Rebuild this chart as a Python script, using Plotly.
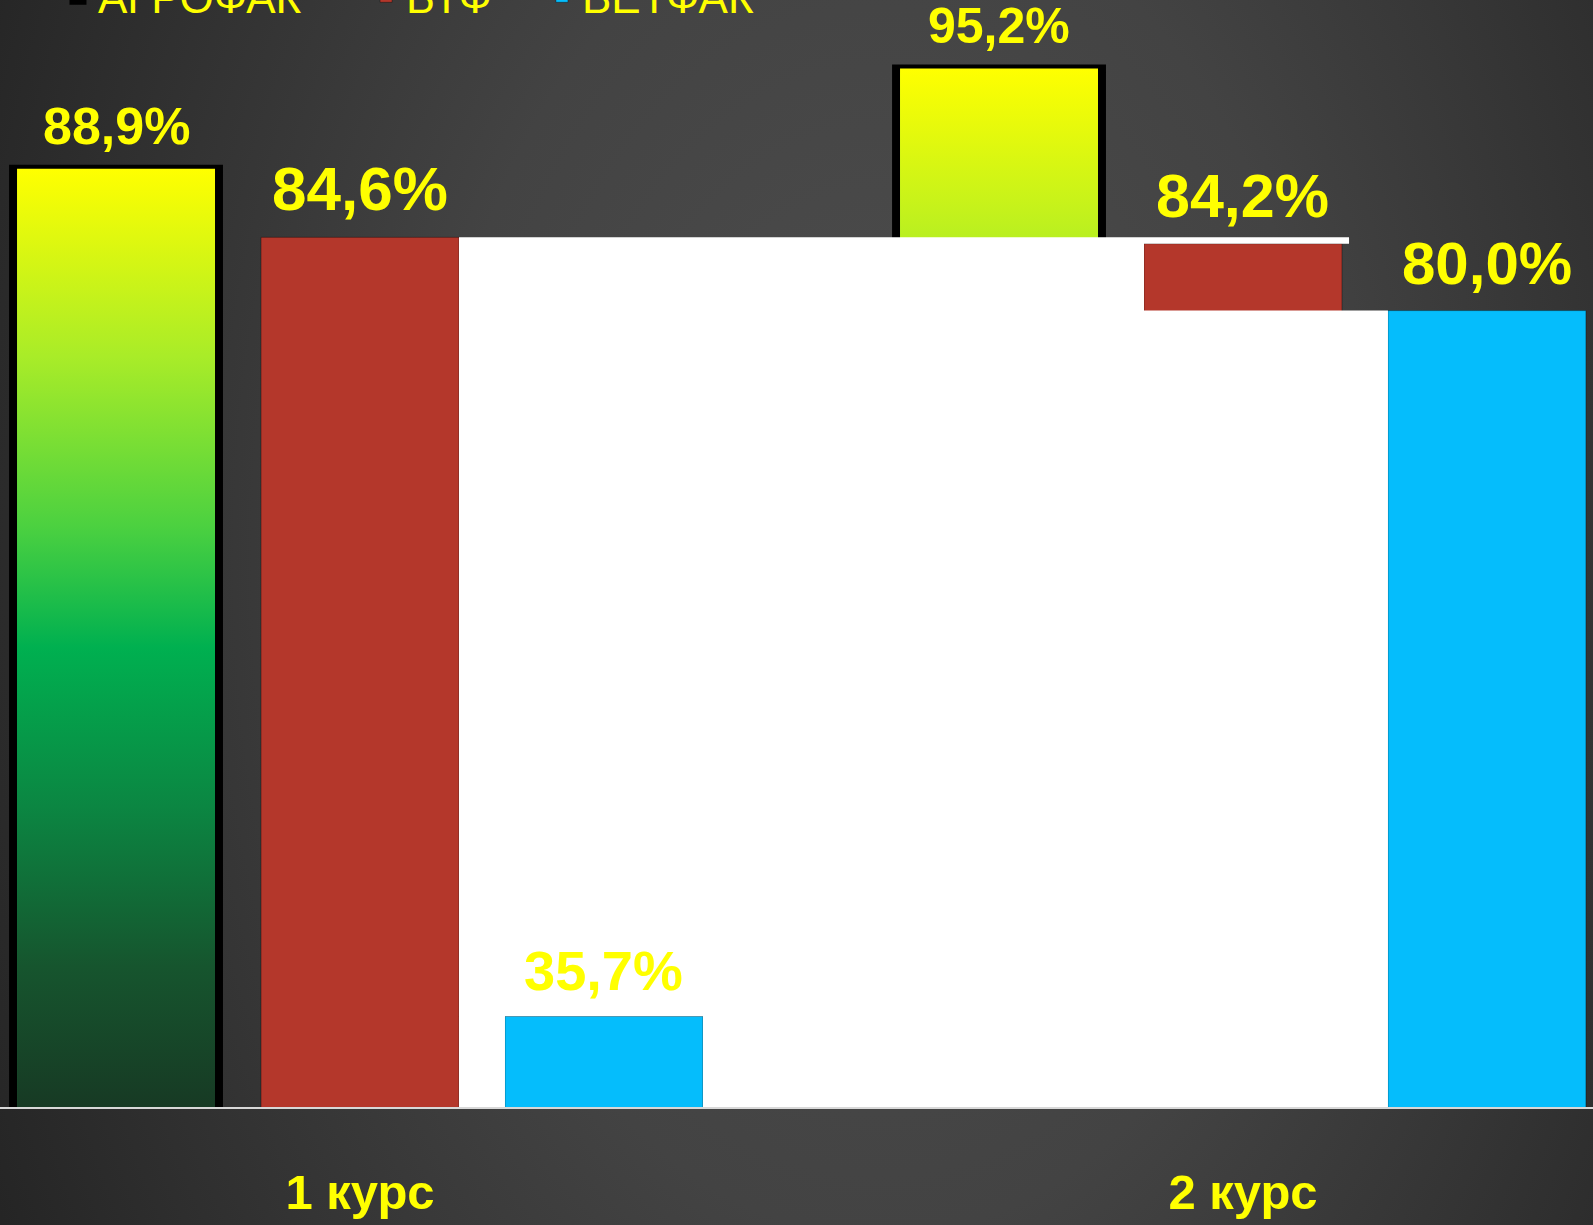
import base64
import plotly.graph_objects as go

# ---------------- data ----------------
categories = ["1 курс", "2 курс"]
series_names = ["АГРОФАК", "БТФ", "ВЕТФАК"]
agrofak = [88.9, 95.2]
btf = [84.6, 84.2]
vetfak = [35.7, 80.0]

# ---------------- style ----------------
Y_MIN, Y_MAX = 30, 99.5
X_RANGE = [-0.4077, 1.3964]
SLOT = 0.2763          # distance between bar centres inside a group
BAR_W = 0.2242         # bar width (category units)
shifts = [-SLOT, 0.0, SLOT]
colors = ["#0c9a48", "#b4372b", "#05bdfc"]
YELLOW = "#ffff00"
FONT = "Liberation Sans, Arial, sans-serif"
label_sizes = [[52, 50], [62, 61], [56, 60]]
legend_x = [0.0364, 0.2298, 0.3402]
legend_ids = ["legend", "legend2", "legend3"]
green_scale = [
    [0.0, "#173a24"], [0.15, "#16552e"], [0.32, "#0b8642"], [0.49, "#00b050"],
    [0.62, "#4cd140"], [0.8, "#a9ec28"], [1.0, "#ffff00"],
]

series_values = [agrofak, btf, vetfak]
xs = list(range(len(categories)))

fig = go.Figure()

# bars
for i, (name, vals) in enumerate(zip(series_names, series_values)):
    w = BAR_W + (0.009 if i == 0 else 0)
    line = dict(color="#000000", width=8) if i == 0 else dict(color="rgba(0,0,0,0.35)", width=1)
    fig.add_trace(go.Bar(
        x=xs, y=vals, name=name, legend=legend_ids[i],
        width=w, offset=shifts[i] - w / 2,
        marker=dict(color=colors[i], line=line),
        hoverinfo="skip",
    ))

# gradient fill for the АГРОФАК bars
for c, v in zip(xs, agrofak):
    cx = c + shifts[0]
    fig.add_trace(go.Scatter(
        x=[cx - BAR_W / 2, cx + BAR_W / 2, cx + BAR_W / 2, cx - BAR_W / 2, cx - BAR_W / 2],
        y=[Y_MIN, Y_MIN, v, v, Y_MIN],
        mode="lines", line=dict(width=0), fill="toself",
        fillgradient=dict(type="vertical", colorscale=green_scale),
        showlegend=False, hoverinfo="skip",
    ))

# white panel that hides part of the second group (as in the reference)
xL = 0 + shifts[1] + BAR_W / 2
xR = 1 + shifts[1] + BAR_W / 2 + 0.008
bL = 1 + shifts[1] - BAR_W / 2
xV = 1 + shifts[2] - BAR_W / 2
vL = 0 + shifts[2] - BAR_W / 2
vR = 0 + shifts[2] + BAR_W / 2
top = btf[0]
fig.add_trace(go.Scatter(
    x=[xL, xR, xR, bL, bL, xV, xV, vR, vR, vL, vL, xL, xL],
    y=[top, top, btf[1], btf[1], vetfak[1], vetfak[1], Y_MIN, Y_MIN, vetfak[0], vetfak[0], Y_MIN, Y_MIN, top],
    mode="lines", line=dict(width=0), fill="toself", fillcolor="#ffffff",
    showlegend=False, hoverinfo="skip",
))

# value labels
annotations = []
for i, vals in enumerate(series_values):
    for c, v in zip(xs, vals):
        annotations.append(dict(
            x=c + shifts[i], y=v, xref="x", yref="y",
            text=f"{v:.1f}%".replace(".", ","),
            showarrow=False, yanchor="bottom", yshift=12,
            font=dict(family=FONT, size=label_sizes[i][c], color=YELLOW, weight="bold"),
        ))

# background gradient (svg)
svg = (
    '<svg xmlns="http://www.w3.org/2000/svg" width="1593" height="1225">'
    '<defs><radialGradient id="g" gradientUnits="userSpaceOnUse" cx="880" cy="560" r="1000" '
    'gradientTransform="translate(880 560) scale(1 1.5) translate(-880 -560)">'
    '<stop offset="0" stop-color="#4e4e4e"/><stop offset="0.45" stop-color="#434343"/>'
    '<stop offset="1" stop-color="#242424"/></radialGradient></defs>'
    '<rect width="1593" height="1225" fill="url(#g)"/></svg>'
)
bg_src = "data:image/svg+xml;base64," + base64.b64encode(svg.encode()).decode()

legend_common = dict(orientation="h", y=1.003, xanchor="left", yanchor="middle",
                     font=dict(family=FONT, size=44, color=YELLOW),
                     bgcolor="rgba(0,0,0,0)", itemwidth=30)

fig.update_layout(
    width=1593, height=1225,
    margin=dict(l=0, r=0, t=0, b=118, autoexpand=False),
    paper_bgcolor="#383838", plot_bgcolor="rgba(0,0,0,0)",
    barmode="overlay",
    images=[dict(source=bg_src, xref="paper", yref="paper", x=0, y=1,
                 sizex=1, sizey=1225 / 1107, xanchor="left", yanchor="top",
                 sizing="stretch", layer="below")],
    xaxis=dict(range=X_RANGE, tickvals=xs, ticktext=categories, showgrid=False,
               zeroline=False, showline=True, linecolor="#d8d8d8", linewidth=2,
               ticks="", ticklabelstandoff=41,
               tickfont=dict(family=FONT, size=49, color=YELLOW, weight="bold")),
    yaxis=dict(range=[Y_MIN, Y_MAX], visible=False, showgrid=False, zeroline=False),
    legend=dict(x=legend_x[0], **legend_common),
    legend2=dict(x=legend_x[1], **legend_common),
    legend3=dict(x=legend_x[2], **legend_common),
    annotations=annotations,
    showlegend=True,
)

fig.write_html(
    "out.html",
    config={"displayModeBar": False},
    post_script="document.body.style.margin='0';document.body.style.overflow='hidden';",
)
